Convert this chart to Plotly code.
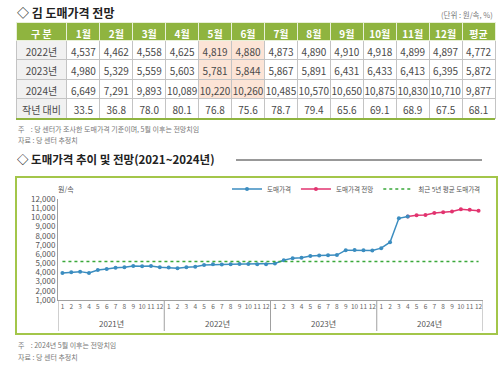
import plotly.graph_objects as go

# ---------------- data ----------------
months = ["1월", "2월", "3월", "4월", "5월", "6월", "7월", "8월", "9월", "10월", "11월", "12월"]
row_labels = ["2022년", "2023년", "2024년", "작년\u00a0대비"]
price_2021 = [3950, 4010, 4090, 3940, 4270, 4380, 4520, 4560, 4700, 4670, 4700, 4560]
price_2022 = [4537, 4462, 4558, 4625, 4819, 4880, 4873, 4890, 4910, 4918, 4899, 4897]
price_2023 = [4980, 5329, 5559, 5603, 5781, 5844, 5867, 5891, 6431, 6433, 6413, 6395]
price_2024 = [6649, 7291, 9893, 10089, 10220, 10260, 10485, 10570, 10650, 10875, 10830, 10710]
yoy_change = [33.5, 36.8, 78.0, 80.1, 76.8, 75.6, 78.7, 79.4, 65.6, 69.1, 68.9, 67.5]
avg_values = ["4,772", "5,872", "9,877", "68.1"]
actual_months_2024 = 4          # Jan-Apr actual, rest forecast
avg5yr = 5200                   # 최근 5년 평균 도매가격
years = ["2021년", "2022년", "2023년", "2024년"]
month_ticks = [str(m) for m in range(1, 13)]

# ---------------- styles ----------------
FONT = "Noto Sans CJK KR"
HEAD_GREEN = "#8fb43f"
BOX_GREEN = "#a3c64a"
PEACH = "#fce4d6"
GRAY_CELL = "#f1f1f1"
TXT = "#4a4a4a"
BLUE = "#3b8dc0"
PINK = "#e2336f"
DOT_GREEN = "#3aa83a"

W, H = 500, 367
def py(px):  # pixel y -> paper
    return 1 - px / H
def px_(p):
    return p / W

fig = go.Figure()

# ---------------- table ----------------
header_vals = ["구 분"] + months + ["평균"]
cols = [row_labels]
fills = [[GRAY_CELL] * 4]
for j in range(12):
    cols.append([f"{price_2022[j]:,}", f"{price_2023[j]:,}", f"{price_2024[j]:,}", f"{yoy_change[j]:.1f}"])
    if j in (4, 5):
        fills.append([PEACH, PEACH, PEACH, "white"])
    else:
        fills.append(["white"] * 4)
cols.append(avg_values)
fills.append(["white"] * 4)

fig.add_trace(go.Table(
    domain=dict(x=[px_(16), px_(495)], y=[py(121), py(22)]),
    columnwidth=[51] + [33] * 13,
    header=dict(values=header_vals, fill_color=HEAD_GREEN, align="center", height=18,
                font=dict(family=FONT, size=10, color="white", weight="bold"),
                line=dict(color="#e8f0d8", width=1)),
    cells=dict(values=cols, fill_color=fills, align="center", height=19.5,
               font=dict(family=FONT, size=10, color=TXT),
               line=dict(color="#c4c4c4", width=1)),
))

# ---------------- line chart ----------------
actual = price_2021 + price_2022 + price_2023 + price_2024[:actual_months_2024]
forecast = price_2024[actual_months_2024 - 1:]
x_actual = list(range(len(actual)))
x_fore = list(range(len(actual) - 1, len(actual) - 1 + len(forecast)))
n_all = 12 * len(years)

fig.add_trace(go.Scatter(
    x=x_fore, y=forecast, mode="lines+markers", name="도매가격 전망", legendrank=2,
    line=dict(color=PINK, width=1.5), marker=dict(size=4, color=PINK),
    xaxis="x", yaxis="y"))
fig.add_trace(go.Scatter(
    x=x_actual, y=actual, mode="lines+markers", name="도매가격", legendrank=1,
    line=dict(color=BLUE, width=1.5), marker=dict(size=4, color=BLUE),
    xaxis="x", yaxis="y"))
fig.add_trace(go.Scatter(
    x=[0, n_all - 1], y=[avg5yr, avg5yr], mode="lines", name="최근 5년 평균 도매가격", legendrank=3,
    line=dict(color=DOT_GREEN, width=1.5, dash="dot"), xaxis="x", yaxis="y"))

fig.update_layout(
    width=W, height=H, margin=dict(l=0, r=0, t=0, b=0, autoexpand=False),
    paper_bgcolor="white", plot_bgcolor="white",
    font=dict(family=FONT, color=TXT),
    xaxis=dict(domain=[px_(58), px_(483)], range=[-0.5, n_all - 0.5], automargin=False,
               tickvals=list(range(n_all)), ticktext=month_ticks * len(years), tickangle=0,
               tickfont=dict(size=6.5, color="#666"), ticks="", showgrid=False,
               showline=True, linecolor="#a0a0a0", linewidth=1, zeroline=False, fixedrange=True),
    yaxis=dict(domain=[py(300), py(199)], range=[1000, 12000], dtick=1000, tickformat=",",
               automargin=False,
               tickfont=dict(size=8, color="#555"), ticks="", showgrid=False,
               showline=True, linecolor="#a0a0a0", linewidth=1, zeroline=False),
    legend=dict(orientation="h", x=px_(486), xanchor="right", y=py(189), yanchor="middle",
                font=dict(size=6.5, color="#555"), itemwidth=30, bgcolor="rgba(0,0,0,0)",
                tracegroupgap=0),
    showlegend=True,
)

shapes = []
# table bottom green line
shapes.append(dict(type="line", xref="paper", yref="paper", x0=px_(16), x1=px_(495),
                   y0=py(119), y1=py(119), line=dict(color=HEAD_GREEN, width=2)))
# title 2 rule
shapes.append(dict(type="line", xref="paper", yref="paper", x0=px_(236), x1=px_(482),
                   y0=py(160), y1=py(160), line=dict(color="#333", width=1)))
# chart box
shapes.append(dict(type="rect", xref="paper", yref="paper", x0=px_(16), x1=px_(497),
                   y0=py(334), y1=py(177), line=dict(color=BOX_GREEN, width=2)))
# year separators
for k in range(len(years) + 1):
    xv = k * 12 - 0.5
    shapes.append(dict(type="line", xref="x", yref="paper", x0=xv, x1=xv,
                       y0=py(300), y1=py(331), line=dict(color="#a0a0a0", width=1)))
fig.update_layout(shapes=shapes)

ann = []
ann.append(dict(text="<b>◇ 김 도매가격 전망</b>", x=px_(15), y=py(12), xref="paper", yref="paper",
                xanchor="left", yanchor="middle", showarrow=False,
                font=dict(size=12, color="#222", family=FONT)))
ann.append(dict(text="(단위 : 원/속, %)", x=px_(495), y=py(14), xref="paper", yref="paper",
                xanchor="right", yanchor="middle", showarrow=False,
                font=dict(size=7.5, color="#777", family=FONT)))
ann.append(dict(text="주    : 당 센터가 조사한 도매가격 기준이며, 5월 이후는 전망치임", x=px_(16), y=py(129),
                xref="paper", yref="paper", xanchor="left", yanchor="middle", showarrow=False,
                font=dict(size=7, color="#777", family=FONT)))
ann.append(dict(text="자료 : 당 센터 추정치", x=px_(16), y=py(140),
                xref="paper", yref="paper", xanchor="left", yanchor="middle", showarrow=False,
                font=dict(size=7, color="#777", family=FONT)))
ann.append(dict(text="<b>◇ 도매가격 추이 및 전망(2021~2024년)</b>", x=px_(15), y=py(159), xref="paper", yref="paper",
                xanchor="left", yanchor="middle", showarrow=False,
                font=dict(size=11.5, color="#222", family=FONT)))
ann.append(dict(text="원/속", x=px_(56), y=py(189), xref="paper", yref="paper",
                xanchor="left", yanchor="middle", showarrow=False,
                font=dict(size=7, color="#555", family=FONT)))
for k, yl in enumerate(years):
    ann.append(dict(text=yl, x=k * 12 + 5.5, y=py(323), xref="x", yref="paper",
                    xanchor="center", yanchor="middle", showarrow=False,
                    font=dict(size=8, color="#555", family=FONT)))
ann.append(dict(text="주    : 2024년 5월 이후는 전망치임", x=px_(16), y=py(345),
                xref="paper", yref="paper", xanchor="left", yanchor="middle", showarrow=False,
                font=dict(size=7, color="#777", family=FONT)))
ann.append(dict(text="자료 : 당 센터 추정치", x=px_(16), y=py(357),
                xref="paper", yref="paper", xanchor="left", yanchor="middle", showarrow=False,
                font=dict(size=7, color="#777", family=FONT)))
fig.update_layout(annotations=ann)

fig.write_html("out.html", config={"displayModeBar": False},
               post_script="document.body.style.margin='0';document.body.style.overflow='hidden';")
